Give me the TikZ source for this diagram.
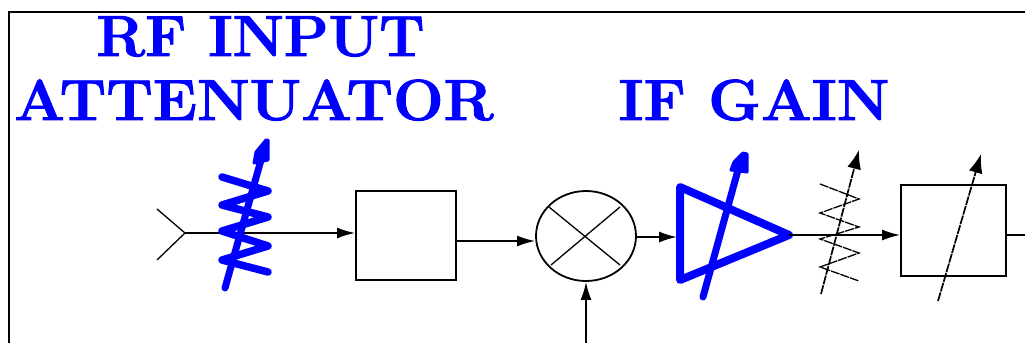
\documentclass[tikz,border=0pt]{standalone}
\usepackage{fontspec}
\setmainfont{Latin Modern Roman}
\newfontfamily\ttlfont{Latin Modern Roman}[BoldFeatures={FakeBold=1.6,FakeStretch=1.03}]
\usetikzlibrary{arrows.meta,shapes.geometric}
\definecolor{rfblue}{RGB}{0,0,255}
\tikzset{
  wire/.style={draw=black,line width=1.8pt},
  thin wire/.style={draw=black,line width=1.3pt},
  sig/.style={wire,-{Latex[length=18pt,width=11pt]}},
  adj/.style={thin wire,line width=1.7pt,dash pattern=on 9pt off 1pt,-{Latex[length=19pt,width=14pt]}},
  zig/.style={thin wire,dash pattern=on 9pt off 1pt,line join=miter},
  blueline/.style={draw=rfblue,line width=7pt,line cap=round,line join=round},
  bluezig/.style={draw=rfblue,line width=7.5pt,line cap=round,line join=round},
  bluetip/.style={fill=rfblue,draw=rfblue,line width=3pt,line join=round},
  box/.style={draw=black,line width=1.8pt,fill=white,inner sep=0pt,rectangle},
  title/.style={text=rfblue,inner sep=0pt,anchor=base,font=\fontsize{58}{58}\ttlfont\bfseries},
}
\begin{document}
\begin{tikzpicture}[x=1pt,y=-1pt]
\useasboundingbox[fill=white] (0,0) rectangle (1025,343);
\coordinate (fb) at (9,343);
\coordinate (ft) at (9,12);
\coordinate (fr) at (1025,12);
\draw[line width=2pt] (fb) -- (ft) -- (fr);
% titles
\node[title,xscale=.975] (t1) at (260.5,56) {RF INPUT};
\node[title] (t2) at (254,120) {ATTENUATOR};
\node[title] (t3) at (754,120) {IF GAIN};
% antenna
\coordinate (ant) at (185,233);
\coordinate (antu) at (157,209);
\coordinate (antl) at (157,260);
\draw[thin wire] (antu) -- (ant) -- (antl);
% RF box
\node[box,minimum width=100pt,minimum height=89pt] (rfbox) at (406,235.5) {};
\coordinate (rfin) at (rfbox.west|-ant);
\draw[sig] (ant) -- (rfin);
% blue attenuator
\coordinate (ba) at (225,288);
\coordinate (bb) at (261,160);
\draw[blueline] (ba) -- (bb);
\path[bluetip] (254,163) -- (256,152) -- (266,140) -- (268,140) -- (268,160) -- cycle;
\draw[bluezig] (222,177) -- (268,191) -- (222,205) -- (268,217) -- (222,231) -- (268,246) -- (222,260) -- (268,272);
% mixer
\node[ellipse,draw=black,line width=1.8pt,minimum width=100pt,minimum height=90pt,inner sep=0pt] (mix) at (586,236) {};
\coordinate (xa) at (549,207);
\coordinate (xb) at (620,265);
\coordinate (xc) at (620,207);
\coordinate (xd) at (551,265);
\draw[thin wire] (xa) -- (xb) (xc) -- (xd);
\coordinate (rfout) at (rfbox.east|-0,241);
\coordinate (mixin) at (mix.west|-0,241);
\draw[sig] (rfout) -- (mixin);
\coordinate (lo) at (586,343);
\draw[sig] (lo) -- (mix.south);
% IF amp
\coordinate (ta) at (680,187);
\coordinate (tb) at (680,280);
\coordinate (tc) at (789,235);
\coordinate (tin) at (677,237);
\draw[sig] (mix.east|-tin) -- (tin);
\draw[blueline,line width=8pt] (ta) -- (tc) -- (tb) -- cycle;
\coordinate (ga) at (703,297);
\coordinate (gb) at (738,170);
\draw[blueline] (ga) -- (gb);
\path[bluetip] (731,170) -- (734,162) -- (743,153) -- (747,154) -- (747,172) -- cycle;
% output wire and black attenuator
\node[box,minimum width=105pt,minimum height=91pt] (ifbox) at (953.5,230.5) {};
\draw[sig] (tc) -- (ifbox.west|-tc);
\coordinate (ka) at (821,294);
\coordinate (kb) at (859,150);
\draw[adj] (ka) -- (kb);
\draw[zig] (820,184) -- (859,199) -- (820,213) -- (859,227) -- (820,239) -- (859,253) -- (820,267) -- (859,281);
% IF box and its adjust arrow
\coordinate (ia) at (938,301);
\coordinate (ib) at (981,154);
\draw[adj] (ia) -- (ib);
\coordinate (out) at (1025,235);
\draw[wire] (ifbox.east|-out) -- (out);
\end{tikzpicture}
\end{document}
